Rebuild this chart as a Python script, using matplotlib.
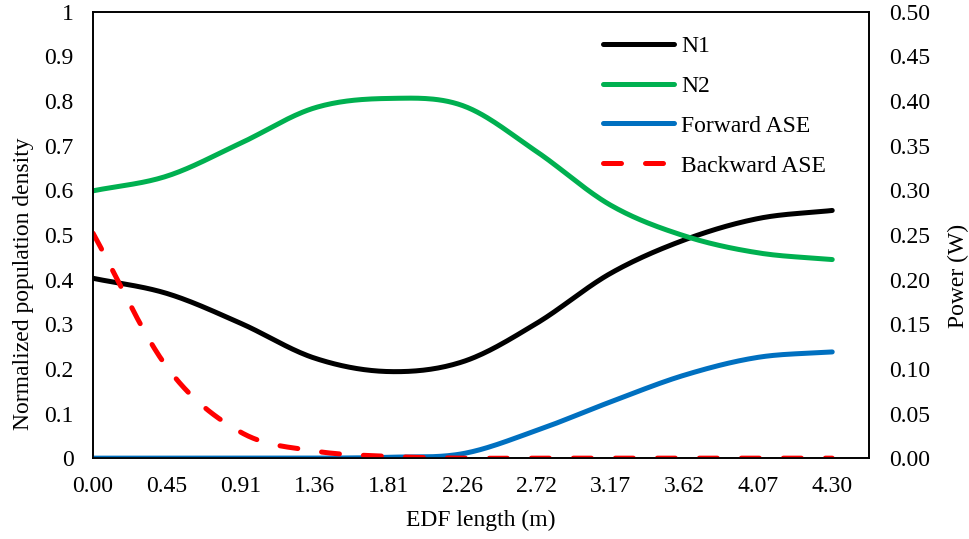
import numpy as np
import matplotlib
matplotlib.use("Agg")
import matplotlib.pyplot as plt

plt.rcParams['font.family'] = ['Liberation Serif', 'DejaVu Serif']
plt.rcParams['font.size'] = 17

# categories on the x axis (m)
x_labels = ['0.00', '0.45', '0.91', '1.36', '1.81', '2.26', '2.72', '3.17', '3.62', '4.07', '4.30']

# normalized population densities (left axis)
n1 = [0.403, 0.369, 0.302, 0.224, 0.194, 0.216, 0.302, 0.414, 0.489, 0.537, 0.555]
n2 = [0.599, 0.632, 0.706, 0.785, 0.806, 0.790, 0.687, 0.567, 0.498, 0.460, 0.445]

# ASE power in W (right axis)
fwd_ase = [0.0, 0.0, 0.0, 0.0, 0.001, 0.005, 0.031, 0.063, 0.093, 0.113, 0.119]
bwd_ase = [0.252, 0.102, 0.029, 0.008, 0.002, 0.0, 0.0, 0.0, 0.0, 0.0, 0.0]


def smooth(ys, n=30):
    # catmull-rom curve through the points, like excel's smoothed line
    ys = np.asarray(ys, dtype=float)
    xs = np.arange(len(ys), dtype=float)
    px = np.concatenate([[2 * xs[0] - xs[1]], xs, [2 * xs[-1] - xs[-2]]])
    py = np.concatenate([[2 * ys[0] - ys[1]], ys, [2 * ys[-1] - ys[-2]]])
    out_x, out_y = [], []
    t = np.linspace(0, 1, n, endpoint=False)
    for i in range(1, len(px) - 2):
        for p, out in ((px, out_x), (py, out_y)):
            p0, p1, p2, p3 = p[i - 1], p[i], p[i + 1], p[i + 2]
            out.extend(0.5 * ((2 * p1) + (-p0 + p2) * t
                              + (2 * p0 - 5 * p1 + 4 * p2 - p3) * t ** 2
                              + (-p0 + 3 * p1 - 3 * p2 + p3) * t ** 3))
    out_x.append(xs[-1])
    out_y.append(ys[-1])
    return np.array(out_x), np.array(out_y)


fig = plt.figure(figsize=(9.69, 5.39), dpi=100)
ax = fig.add_axes([0.096, 0.150, 0.801, 0.828])
ax2 = ax.twinx()

lw = 3.6
h1, = ax.plot(*smooth(n1), color='black', lw=lw, solid_capstyle='round', label='N1')
h2, = ax.plot(*smooth(n2), color='#00B050', lw=lw, solid_capstyle='round', label='N2')
h3, = ax2.plot(*smooth(fwd_ase), color='#0070C0', lw=lw, solid_capstyle='round', label='Forward ASE')
h4, = ax2.plot(*smooth(bwd_ase), color='#FF0000', lw=lw, dashes=(3.6, 4.8),
               dash_capstyle='round', label='Backward ASE')

ax.set_xlim(0, 10.5)
ax.set_ylim(0, 1)
ax2.set_ylim(0, 0.5)
ax.set_xticks(range(len(x_labels)))
ax.set_xticklabels(x_labels)
ax.set_yticks(np.arange(0, 1.01, 0.1))
ax.set_yticklabels(['0'] + ['%.1f' % v for v in np.arange(0.1, 0.95, 0.1)] + ['1'])
ax2.set_yticks(np.arange(0, 0.501, 0.05))
ax2.set_yticklabels(['%.2f' % v for v in np.arange(0, 0.501, 0.05)])

ax.tick_params(axis='x', length=0, pad=13)
ax.tick_params(axis='y', length=0, pad=14)
ax2.tick_params(axis='y', length=0, pad=14)
for a in (ax, ax2):
    for s in a.spines.values():
        s.set_color('black')
        s.set_linewidth(1.2)

ax.set_xlabel('EDF length (m)', labelpad=9)
ax.set_ylabel('Normalized population density', labelpad=7, y=0.392)
ax2.set_ylabel('Power (W)', labelpad=13, y=0.408)

ax2.legend(handles=[h1, h2, h3, h4], loc='upper left', bbox_to_anchor=(0.63, 0.995),
           frameon=False, handlelength=3.0, handletextpad=0.3, labelspacing=0.78)

fig.savefig('out.png', dpi=100)
